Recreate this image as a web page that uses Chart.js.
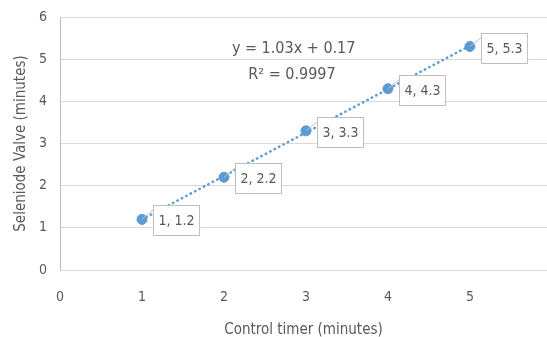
<!DOCTYPE html>
<html>
<head>
<meta charset="utf-8">
<script src="https://cdn.jsdelivr.net/npm/chart.js@4.4.1/dist/chart.umd.min.js"></script>
<style>
  html, body { margin: 0; padding: 0; background: #ffffff; }
  #wrap { width: 547px; height: 337px; }
</style>
</head>
<body>
<div id="wrap"><canvas id="c" width="547" height="337"></canvas></div>
<script>
// ── Data ──
var timerX = [1, 2, 3, 4, 5];
var valveY = [1.2, 2.2, 3.3, 4.3, 5.3];
var trendX = [1, 5];
var trendY = [1.2, 5.32];
var pointLabels = ['1, 1.2', '2, 2.2', '3, 3.3', '4, 4.3', '5, 5.3'];
var equationLines = ['y = 1.03x + 0.17', 'R\u00b2 = 0.9997'];
var yTicks = [0, 1, 2, 3, 4, 5, 6];
var xTicks = [0, 1, 2, 3, 4, 5];

var FONT = "'Liberation Sans Narrow', 'DejaVu Sans Condensed', 'Liberation Sans', sans-serif";
var TEXT = '#595959';
var BLUE = '#5b9bd5';

function toXY(xs, ys) {
  var out = [];
  for (var i = 0; i < xs.length; i++) out.push({ x: xs[i], y: ys[i] });
  return out;
}

// ── Data label boxes + equation text ──
var labelPlugin = {
  id: 'labels',
  afterDatasetsDraw: function(chart) {
    var ctx = chart.ctx;
    var meta = chart.getDatasetMeta(1);
    ctx.save();
    ctx.font = '14px ' + FONT;
    ctx.textBaseline = 'middle';
    for (var i = 0; i < meta.data.length; i++) {
      var p = meta.data[i];
      var w = ctx.measureText(pointLabels[i]).width + 10;
      var bx = Math.round(p.x + 11) + 0.5, by = Math.round(p.y - 14) + 0.5;
      ctx.strokeStyle = '#bfbfbf';
      ctx.lineWidth = 1;
      ctx.beginPath();
      ctx.moveTo(p.x, p.y);
      ctx.lineTo(bx, by + 4);
      ctx.stroke();
      ctx.fillStyle = '#ffffff';
      ctx.fillRect(bx, by, w, 30);
      ctx.strokeRect(bx, by, w, 30);
      ctx.fillStyle = TEXT;
      ctx.textAlign = 'left';
      ctx.fillText(pointLabels[i], bx + 5, by + 16);
    }
    var xs = chart.scales.x, ys = chart.scales.y;
    ctx.font = '16px ' + FONT;
    ctx.textAlign = 'center';
    ctx.fillText(equationLines[0], xs.getPixelForValue(2.85), ys.getPixelForValue(5.25));
    ctx.fillText(equationLines[1], xs.getPixelForValue(2.83), ys.getPixelForValue(4.63));
    ctx.restore();
  }
};

new Chart(document.getElementById('c'), {
  type: 'scatter',
  data: {
    datasets: [
      {
        label: 'Trend',
        type: 'line',
        data: toXY(trendX, trendY),
        borderColor: BLUE,
        borderWidth: 2.5,
        borderDash: [0.5, 4.5],
        borderCapStyle: 'round',
        pointRadius: 0,
        fill: false
      },
      {
        label: 'Valve',
        data: toXY(timerX, valveY),
        backgroundColor: BLUE,
        borderColor: BLUE,
        pointRadius: 5
      }
    ]
  },
  options: {
    responsive: false,
    animation: false,
    layout: { autoPadding: false, padding: { top: 17, right: 0, left: 0, bottom: 0 } },
    plugins: { legend: { display: false }, tooltip: { enabled: false } },
    scales: {
      x: {
        type: 'linear',
        min: 0,
        max: 5.94,
        afterBuildTicks: function(s) { s.ticks = xTicks.map(function(v) { return { value: v }; }); },
        afterFit: function(s) { s.height = 67; s.paddingLeft = 0; s.paddingRight = 0; },
        grid: { display: false, drawTicks: false },
        border: { color: '#d9d9d9', width: 1 },
        ticks: { color: TEXT, padding: 19, font: { family: FONT, size: 14 } },
        title: { display: true, text: 'Control timer (minutes)', color: TEXT, font: { family: FONT, size: 15 }, padding: { top: 0, bottom: -2 } }
      },
      y: {
        min: 0,
        max: 6,
        afterBuildTicks: function(s) { s.ticks = yTicks.map(function(v) { return { value: v }; }); },
        afterFit: function(s) { s.width = 60; s.paddingTop = 0; s.paddingBottom = 0; },
        grid: { color: '#d9d9d9', drawTicks: false },
        border: { color: '#bfbfbf', width: 1 },
        ticks: { color: TEXT, padding: 13, font: { family: FONT, size: 14 } },
        title: { display: true, text: 'Seleniode Valve (minutes)', color: TEXT, font: { family: FONT, size: 15 }, padding: { top: 12, bottom: 0 } }
      }
    }
  },
  plugins: [labelPlugin]
});
</script>
</body>
</html>
